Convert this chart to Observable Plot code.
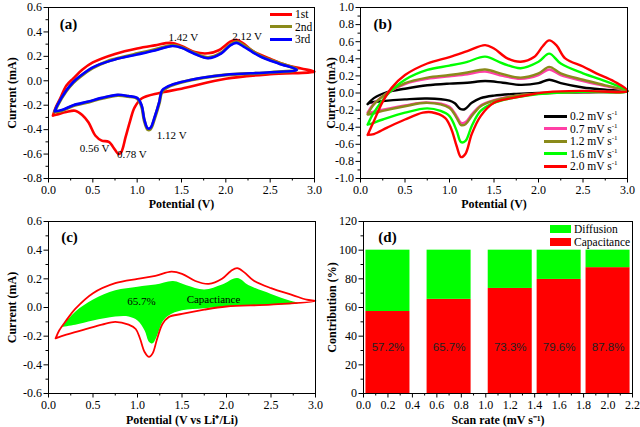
<!DOCTYPE html>
<html><head><meta charset="utf-8">
<script src="https://cdn.jsdelivr.net/npm/d3@7"></script>
<script src="https://cdn.jsdelivr.net/npm/@observablehq/plot@0.6"></script>
<style>
body{margin:0;background:#fff;}
#wrap{position:relative;width:640px;height:427px;overflow:hidden;background:#fff;font-family:"Liberation Serif",serif;color:#000;}
#wrap > div{position:absolute;}
.leg{font-size:11.5px;line-height:12.5px;white-space:nowrap;}
.leg .row{position:absolute;left:0;display:flex;align-items:center;height:12.5px;}
.leg .sw{display:inline-block;margin-right:3px;}
.leg sup{font-size:7px;vertical-align:5px;line-height:0;}
</style></head><body><div id="wrap"></div>
<script>
// ---------- DATA ----------
// panel (a): CV cycles, [potential V, current mA]
const aCycles = ["1st", "2nd", "3rd"];
const aColors = ["#ff0000", "#8a8a1a", "#0000ff"];
const a1st = [[0.05,-0.285],[0.08,-0.22],[0.135,-0.14],[0.2,-0.04],[0.28,0.02],[0.38,0.09],[0.5,0.15],[0.75,0.22],[1.0,0.265],[1.2,0.29],[1.38,0.31],[1.5,0.285],[1.65,0.235],[1.8,0.225],[1.92,0.25],[2.05,0.32],[2.12,0.335],[2.2,0.305],[2.3,0.245],[2.5,0.18],[2.7,0.125],[2.85,0.1],[3.0,0.075],
  [2.5,0.054],[2.0,0.016],[1.5,-0.065],[1.25,-0.1],[1.05,-0.145],[0.97,-0.22],[0.92,-0.33],[0.87,-0.46],[0.82,-0.585],[0.79,-0.6],[0.75,-0.565],[0.68,-0.5],[0.6,-0.49],[0.53,-0.45],[0.45,-0.34],[0.38,-0.28],[0.3,-0.245],[0.2,-0.255],[0.1,-0.275],[0.05,-0.285]];
const a2nd = [[0.07,-0.255],[0.1,-0.205],[0.2,-0.085],[0.28,-0.015],[0.35,0.03],[0.5,0.105],[0.66,0.158],[0.75,0.178],[1.0,0.222],[1.2,0.255],[1.4,0.29],[1.5,0.275],[1.65,0.225],[1.8,0.19],[1.95,0.23],[2.05,0.295],[2.12,0.318],[2.2,0.29],[2.3,0.243],[2.4,0.2],[2.6,0.145],[2.8,0.092],
  [2.5,0.068],[2.0,0.048],[1.75,0.025],[1.5,-0.012],[1.35,-0.05],[1.28,-0.09],[1.25,-0.18],[1.2,-0.3],[1.15,-0.395],[1.12,-0.40],[1.08,-0.325],[1.05,-0.21],[1.0,-0.145],[0.9,-0.128],[0.78,-0.12],[0.6,-0.145],[0.45,-0.175],[0.28,-0.205],[0.15,-0.245],[0.07,-0.255]];
const a3rd = [[0.07,-0.25],[0.1,-0.2],[0.2,-0.08],[0.28,-0.01],[0.35,0.035],[0.5,0.11],[0.66,0.155],[0.75,0.175],[1.0,0.215],[1.2,0.248],[1.4,0.285],[1.5,0.27],[1.65,0.22],[1.8,0.185],[1.95,0.225],[2.05,0.29],[2.12,0.31],[2.2,0.28],[2.3,0.235],[2.4,0.195],[2.6,0.14],[2.8,0.09],
  [2.5,0.07],[2.0,0.05],[1.75,0.027],[1.5,-0.01],[1.35,-0.045],[1.28,-0.08],[1.25,-0.17],[1.2,-0.29],[1.15,-0.385],[1.12,-0.39],[1.08,-0.315],[1.05,-0.2],[1.0,-0.14],[0.9,-0.125],[0.78,-0.115],[0.6,-0.14],[0.45,-0.17],[0.28,-0.2],[0.15,-0.24],[0.07,-0.25]];
const aPeakLabels = ["1.42 V", "2.12 V", "1.12 V", "0.56 V", "0.78 V"];
const aPeakV = [1.52, 2.24, 1.39, 0.52, 0.94];
const aPeakI = [0.356, 0.364, -0.445, -0.558, -0.607];

// panel (b): scan rates
const bRates = ["0.2", "0.7", "1.2", "1.6", "2.0"];
const bColors = ["#000000", "#ff3fa5", "#8a8a1a", "#00ff00", "#ff0000"];
const b02 = [[0.08,-0.13],[0.15,-0.06],[0.3,0.01],[0.5,0.05],[0.75,0.09],[1.0,0.11],[1.2,0.12],[1.4,0.14],[1.6,0.12],[1.8,0.095],[2.0,0.115],[2.12,0.155],[2.25,0.115],[2.5,0.065],[2.75,0.04],[3.0,0.02],
  [2.5,0.008],[2.0,0.0],[1.75,-0.01],[1.5,-0.03],[1.35,-0.06],[1.25,-0.115],[1.17,-0.19],[1.12,-0.185],[1.06,-0.12],[1.0,-0.09],[0.75,-0.065],[0.5,-0.075],[0.25,-0.095],[0.1,-0.115],[0.08,-0.13]];
const b07 = [[0.08,-0.23],[0.15,-0.125],[0.3,0.0],[0.5,0.105],[0.75,0.165],[1.0,0.195],[1.2,0.22],[1.4,0.25],[1.6,0.2],[1.8,0.165],[2.0,0.21],[2.12,0.275],[2.25,0.21],[2.5,0.14],[2.75,0.08],[3.0,0.022],
  [2.5,0.01],[2.0,-0.008],[1.75,-0.03],[1.5,-0.085],[1.35,-0.145],[1.25,-0.25],[1.18,-0.34],[1.13,-0.35],[1.08,-0.27],[1.0,-0.16],[0.75,-0.11],[0.5,-0.145],[0.25,-0.195],[0.1,-0.23],[0.08,-0.23]];
const b12 = [[0.08,-0.25],[0.15,-0.135],[0.3,0.0],[0.5,0.115],[0.75,0.18],[1.0,0.21],[1.2,0.24],[1.4,0.275],[1.6,0.22],[1.8,0.18],[2.0,0.23],[2.12,0.305],[2.25,0.23],[2.5,0.155],[2.75,0.09],[3.0,0.025],
  [2.5,0.012],[2.0,-0.008],[1.75,-0.03],[1.5,-0.09],[1.35,-0.155],[1.25,-0.27],[1.18,-0.365],[1.13,-0.375],[1.08,-0.29],[1.0,-0.175],[0.75,-0.115],[0.5,-0.155],[0.25,-0.21],[0.1,-0.25],[0.08,-0.25]];
const b16 = [[0.08,-0.37],[0.15,-0.23],[0.3,-0.02],[0.5,0.155],[0.75,0.27],[1.0,0.32],[1.2,0.365],[1.4,0.425],[1.6,0.345],[1.8,0.29],[2.0,0.365],[2.12,0.46],[2.25,0.345],[2.5,0.23],[2.75,0.14],[3.0,0.02],
  [2.5,0.015],[2.0,-0.012],[1.75,-0.05],[1.5,-0.115],[1.35,-0.21],[1.25,-0.385],[1.18,-0.56],[1.13,-0.575],[1.08,-0.44],[1.0,-0.27],[0.9,-0.21],[0.75,-0.18],[0.5,-0.23],[0.25,-0.31],[0.1,-0.365],[0.08,-0.37]];
const b20 = [[0.08,-0.49],[0.15,-0.33],[0.25,-0.1],[0.35,0.06],[0.5,0.21],[0.75,0.345],[1.0,0.42],[1.2,0.49],[1.4,0.56],[1.5,0.52],[1.65,0.405],[1.8,0.365],[1.95,0.42],[2.05,0.55],[2.12,0.615],[2.2,0.56],[2.3,0.405],[2.5,0.31],[2.65,0.23],[2.85,0.135],[3.0,0.025],
  [2.5,0.025],[2.1,0.01],[1.9,-0.02],[1.7,-0.06],[1.5,-0.115],[1.35,-0.27],[1.25,-0.48],[1.18,-0.71],[1.13,-0.75],[1.08,-0.62],[1.02,-0.42],[0.95,-0.29],[0.8,-0.225],[0.7,-0.23],[0.5,-0.31],[0.3,-0.405],[0.15,-0.48],[0.08,-0.49]];

// panel (c): total CV at 0.7 mV/s and capacitive part
const cTotal = [[0.08,-0.215],[0.12,-0.16],[0.2,-0.09],[0.3,-0.01],[0.5,0.1],[0.75,0.17],[1.0,0.2],[1.2,0.22],[1.38,0.25],[1.5,0.235],[1.65,0.185],[1.8,0.165],[1.95,0.2],[2.05,0.255],[2.12,0.275],[2.2,0.245],[2.3,0.19],[2.5,0.135],[2.75,0.085],[2.9,0.055],[3.0,0.045],
  [2.5,0.02],[2.0,0.007],[1.75,-0.015],[1.5,-0.045],[1.35,-0.067],[1.28,-0.115],[1.22,-0.22],[1.17,-0.32],[1.13,-0.345],[1.08,-0.31],[1.03,-0.22],[0.98,-0.15],[0.9,-0.12],[0.75,-0.1],[0.6,-0.12],[0.4,-0.155],[0.2,-0.19],[0.08,-0.215]];
const cCap = [[0.15,-0.135],[0.3,-0.03],[0.5,0.055],[0.75,0.12],[1.0,0.145],[1.2,0.16],[1.4,0.185],[1.55,0.155],[1.75,0.125],[1.95,0.16],[2.12,0.205],[2.25,0.155],[2.5,0.095],[2.7,0.05],[2.8,0.03],
  [2.5,0.02],[2.0,0.007],[1.75,-0.005],[1.5,-0.02],[1.35,-0.055],[1.28,-0.1],[1.22,-0.195],[1.17,-0.25],[1.13,-0.24],[1.08,-0.16],[1.0,-0.09],[0.9,-0.062],[0.75,-0.062],[0.5,-0.09],[0.3,-0.12],[0.15,-0.135]];
const cPercent = "65.7%";
const cName = "Capactiance";

// panel (d): contributions
const dRates = [0.2, 0.7, 1.2, 1.6, 2.0];
const dCapacitance = [57.2, 65.7, 73.3, 79.6, 87.8];
const dSeries = ["Diffusion", "Capacitance"];
const dColors = ["#00ff00", "#ff0000"];

// ticks
const potTicks = [0, 0.5, 1, 1.5, 2, 2.5, 3];
const aYTicks = [-0.8, -0.6, -0.4, -0.2, 0, 0.2, 0.4, 0.6];
const bYTicks = [-1, -0.8, -0.6, -0.4, -0.2, 0, 0.2, 0.4, 0.6, 0.8, 1];
const cYTicks = [-0.6, -0.4, -0.2, 0, 0.2, 0.4, 0.6];
const dXTicks = [0, 0.2, 0.4, 0.6, 0.8, 1, 1.2, 1.4, 1.6, 1.8, 2, 2.2];
const dYTicks = [0, 20, 40, 60, 80, 100, 120];

// ---------- HELPERS ----------
const toPts = (arr, s) => arr.map(([v, i]) => ({v, i, s}));
const f1 = d => d.toFixed(1);
const mid = t => t.slice(0, -1).map((d, k) => (d + t[k + 1]) / 2);

function panel(o) {
  const svg = Plot.plot({
    width: 320, height: o.height,
    marginLeft: o.ml, marginRight: o.mr, marginTop: o.mt, marginBottom: o.mb,
    style: {fontFamily: "'Liberation Serif', serif", fontSize: "12px", color: "#000", background: "transparent", overflow: "visible"},
    x: {domain: o.xd}, y: {domain: o.yd},
    marks: [
      ...o.marks,
      Plot.frame({stroke: "#000", strokeWidth: 1}),
      Plot.axisX({ticks: mid(o.xTicks), tickSize: 2.5, tickFormat: () => "", label: null}),
      Plot.axisY({ticks: mid(o.yTicks), tickSize: 2.5, tickFormat: () => "", label: null}),
      Plot.axisX({ticks: o.xTicks, tickSize: 4.5, tickPadding: 2, tickFormat: o.xFmt, label: o.xLabel, labelAnchor: "center", labelOffset: o.xlo, labelArrow: "none"}),
      Plot.axisY({ticks: o.yTicks, tickSize: 4.5, tickPadding: 2, tickFormat: o.yFmt, label: o.yLabel, labelAnchor: "center", labelOffset: o.ylo, labelArrow: "none"})
    ]
  });
  svg.querySelectorAll('[aria-label="x-axis label"], [aria-label="y-axis label"]').forEach(g => {
    g.setAttribute("font-weight", "bold");
    g.setAttribute("font-size", "12px");
  });
  return svg;
}
function place(node, left, top) {
  const d = document.createElement("div");
  d.style.left = left + "px"; d.style.top = top + "px";
  d.appendChild(node);
  document.getElementById("wrap").appendChild(d);
  return d;
}

// ---------- PANEL A ----------
const aData = [...toPts(a1st, "1st"), ...toPts(a2nd, "2nd"), ...toPts(a3rd, "3rd")];
const pa = panel({
  height: 215, ml: 48, mr: 6, mt: 7, mb: 37, xd: [0, 3], yd: [-0.8, 0.6],
  xTicks: potTicks, yTicks: aYTicks, xFmt: f1, yFmt: f1,
  xLabel: "Potential (V)", yLabel: "Current (mA)", xlo: 29, ylo: 41,
  marks: [
    ...aCycles.map((c, k) => Plot.line(aData.filter(d => d.s === c), {x: "v", y: "i", stroke: aColors[k], strokeWidth: k === 1 ? 3.2 : 2.6, curve: "catmull-rom"})),
    Plot.text(aPeakLabels, {x: (d, k) => aPeakV[k], y: (d, k) => aPeakI[k], text: d => d, fontSize: 11}),
    Plot.text(["(a)"], {x: [0.225], y: [0.46], text: d => d, fontWeight: "bold", fontSize: 15})
  ]
});
place(pa, 0, 0);

// ---------- PANEL B ----------
const bCurves = [b02, b07, b12, b16, b20];
const pb = panel({
  height: 215, ml: 40, mr: 13, mt: 7, mb: 37, xd: [0, 3], yd: [-1, 1],
  xTicks: potTicks, yTicks: bYTicks, xFmt: f1, yFmt: f1,
  xLabel: "Potential (V)", yLabel: "Current (mA)", xlo: 29, ylo: 34,
  marks: [
    ...bCurves.map((c, k) => Plot.line(toPts(c, bRates[k]), {x: "v", y: "i", stroke: bColors[k], strokeWidth: 2.4, curve: "catmull-rom"})),
    Plot.text(["(b)"], {x: [0.25], y: [0.8], text: d => d, fontWeight: "bold", fontSize: 15})
  ]
});
place(pb, 320, 0);

// ---------- PANEL C ----------
const pc = panel({
  height: 217, ml: 48, mr: 5, mt: 11, mb: 34, xd: [0, 3], yd: [-0.6, 0.6],
  xTicks: potTicks, yTicks: cYTicks, xFmt: f1, yFmt: f1,
  xLabel: "Potential (V vs Li\u207A/Li)", yLabel: "Current (mA)", xlo: 30, ylo: 41,
  marks: [
    Plot.line(toPts(cCap, "cap"), {x: "v", y: "i", fill: "#00ff00", stroke: "none", curve: "catmull-rom"}),
    Plot.line(toPts(cTotal, "total"), {x: "v", y: "i", stroke: "#ff0000", strokeWidth: 1.8, curve: "catmull-rom"}),
    Plot.text([cPercent], {x: [1.045], y: [0.042], text: d => d, fontSize: 11}),
    Plot.text([cName], {x: [1.854], y: [0.056], text: d => d, fontSize: 11}),
    Plot.text(["(c)"], {x: [0.236], y: [0.49], text: d => d, fontWeight: "bold", fontSize: 15})
  ]
});
place(pc, 0, 210);

// ---------- PANEL D ----------
const dBars = dRates.flatMap((r, k) => [
  {r, s: "Capacitance", y1: 0, y2: dCapacitance[k]},
  {r, s: "Diffusion", y1: dCapacitance[k], y2: 100}
]);
const halfW = 0.18;
const pd = panel({
  height: 217, ml: 43, mr: 8, mt: 11, mb: 34, xd: [0, 2.2], yd: [0, 120],
  xTicks: dXTicks, yTicks: dYTicks, xFmt: f1, yFmt: d => String(d),
  xLabel: "Scan rate (mV s\u207B\u00B9)", yLabel: "Contribution (%)", xlo: 30, ylo: 36,
  marks: [
    Plot.rectY(dBars, {x1: d => d.r - halfW, x2: d => d.r + halfW, y1: "y1", y2: "y2", fill: d => dColors[dSeries.indexOf(d.s)]}),
    Plot.text(dCapacitance, {x: (d, k) => dRates[k], y: () => 32, text: d => d.toFixed(1) + "%", fontFamily: "'Liberation Sans', Arial, sans-serif", fontSize: 11.5, fill: "#222"}),
    Plot.text(["(d)"], {x: [0.196], y: [108.9], text: d => d, fontWeight: "bold", fontSize: 15})
  ]
});
place(pd, 320, 210);

// ---------- LEGENDS (HTML) ----------
function legend(left, top, items, swatch) {
  const box = document.createElement("div");
  box.className = "leg";
  box.style.left = left + "px"; box.style.top = top + "px";
  items.forEach((it, k) => {
    const row = document.createElement("div");
    row.className = "row";
    row.style.top = (k * 12.5) + "px";
    const sw = document.createElement("span");
    sw.className = "sw";
    Object.assign(sw.style, swatch, {background: it.color});
    row.appendChild(sw);
    const t = document.createElement("span");
    t.innerHTML = it.label;
    row.appendChild(t);
    box.appendChild(row);
  });
  document.getElementById("wrap").appendChild(box);
}
legend(270, 8, aCycles.map((c, k) => ({label: c, color: aColors[k]})), {width: "22px", height: "3px"});
legend(544, 110, bRates.map((r, k) => ({label: r + " mV s<sup>-1</sup>", color: bColors[k]})), {width: "23px", height: "3px"});
legend(550, 223, dSeries.map((s, k) => ({label: s, color: dColors[k]})), {width: "21px", height: "8px"});
</script>
</body></html>
